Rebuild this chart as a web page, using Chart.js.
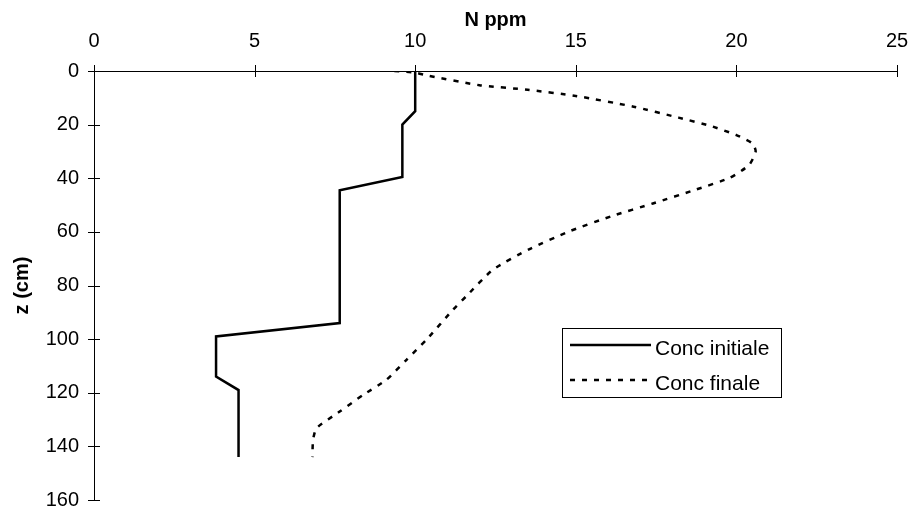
<!DOCTYPE html>
<html>
<head>
<meta charset="utf-8">
<script src="https://cdn.jsdelivr.net/npm/chart.js@4.4.0/dist/chart.umd.min.js"></script>
<style>
	body { margin: 0; background: #fff; }
</style>
</head>
<body>
<canvas id="profil" width="911" height="513"></canvas>
<script>
//data
const depthInit = [0, 15, 20, 39.5, 44.5, 94, 99, 114, 119, 144];
const concInit = [10, 10, 9.6, 9.6, 7.65, 7.65, 3.8, 3.8, 4.5, 4.5];

const depthFin = [0, 0.6, 1.6, 5.3, 7, 9.3, 13.3, 17.4, 20.5, 23.9, 27, 30, 35, 39.8, 44.2, 49.4, 54.2, 59.8, 66.4, 74.1, 84, 89, 100.2, 107.7, 115.2, 120.8, 127, 133.2, 137.6, 144];
const concFin = [9.35, 10, 10.35, 12, 13.5, 15, 16.8, 18.2, 19.2, 20, 20.5, 20.6, 20.4, 19.8, 18.75, 17.4, 16.1, 14.8, 13.56, 12.42, 11.59, 11.18, 10.35, 9.73, 9.1, 8.38, 7.65, 6.93, 6.82, 6.8];

const seriesNames = ["Conc initiale", "Conc finale"];

const FONT = "'Liberation Sans', Arial, sans-serif";

const toPoints = (xs, ys) => xs.map((x, i) => ({ x: x, y: ys[i] }));

//ticks crossing the axis lines
const crossTicks = {
	id: "crossTicks",
	afterDraw(chart) {
		const { ctx, scales: { x, y } } = chart;
		ctx.save();
		ctx.strokeStyle = "#000";
		ctx.lineWidth = 1;
		ctx.beginPath();
		x.ticks.forEach((t) => {
			const px = Math.round(x.getPixelForValue(t.value)) + 0.5;
			ctx.moveTo(px, y.top - 6);
			ctx.lineTo(px, y.top + 6);
		});
		y.ticks.forEach((t) => {
			const py = Math.round(y.getPixelForValue(t.value)) + 0.5;
			ctx.moveTo(x.left - 6, py);
			ctx.lineTo(x.left + 6, py);
		});
		ctx.stroke();
		ctx.restore();
	},
};

//legend box inside the plot
const boxLegend = {
	id: "boxLegend",
	afterDraw(chart) {
		const ctx = chart.ctx;
		const bx = 562, by = 328, bw = 219, bh = 69;
		ctx.save();
		ctx.fillStyle = "#fff";
		ctx.fillRect(bx, by, bw, bh);
		ctx.strokeStyle = "#000";
		ctx.lineWidth = 1;
		ctx.strokeRect(bx + 0.5, by + 0.5, bw, bh);
		chart.data.datasets.forEach((ds, i) => {
			const ly = by + 17 + i * 35;
			ctx.beginPath();
			ctx.lineWidth = ds.borderWidth;
			ctx.strokeStyle = ds.borderColor;
			ctx.setLineDash(ds.borderDash || []);
			ctx.moveTo(bx + 8, ly);
			ctx.lineTo(bx + 89, ly);
			ctx.stroke();
			ctx.setLineDash([]);
			ctx.fillStyle = "#000";
			ctx.font = "21px " + FONT;
			ctx.textBaseline = "middle";
			ctx.textAlign = "left";
			ctx.fillText(ds.label, bx + 93, ly + 4);
		});
		ctx.restore();
	},
};

//config
const config = {
	type: "scatter",
	data: {
		datasets: [
			{
				label: seriesNames[0],
				data: toPoints(concInit, depthInit),
				showLine: true,
				borderColor: "#000",
				borderWidth: 2.5,
				pointRadius: 0,
				tension: 0,
			},
			{
				label: seriesNames[1],
				data: toPoints(concFin, depthFin),
				showLine: true,
				borderColor: "#000",
				borderWidth: 2.5,
				borderDash: [5, 7],
				pointRadius: 0,
				tension: 0.2,
			},
		],
	},
	options: {
		responsive: false,
		animation: false,
		layout: {
			padding: { left: 0, top: 0, right: 14, bottom: 13 },
		},
		scales: {
			x: {
				type: "linear",
				position: "top",
				min: 0,
				max: 25,
				ticks: {
					stepSize: 5,
					color: "#000",
					font: { family: FONT, size: 20 },
					padding: 18,
					maxRotation: 0,
				},
				grid: { drawOnChartArea: false, drawTicks: false },
				border: { color: "#000", width: 1 },
				title: {
					display: true,
					text: "N ppm",
					color: "#000",
					font: { family: FONT, size: 20, weight: "bold" },
					padding: { top: 8, bottom: 0 },
				},
				afterFit(scale) {
					scale.height = 71;
					scale.paddingLeft = 0;
					scale.paddingRight = 0;
				},
			},
			y: {
				type: "linear",
				reverse: true,
				min: 0,
				max: 160,
				ticks: {
					stepSize: 20,
					color: "#000",
					font: { family: FONT, size: 20 },
					padding: 15,
				},
				grid: { drawOnChartArea: false, drawTicks: false },
				border: { color: "#000", width: 1 },
				title: {
					display: true,
					text: "z (cm)",
					color: "#000",
					font: { family: FONT, size: 20, weight: "bold" },
					padding: { top: 10, bottom: 0 },
				},
				afterFit(scale) {
					scale.width = 94;
					scale.paddingTop = 0;
					scale.paddingBottom = 0;
				},
			},
		},
		plugins: {
			legend: { display: false },
			tooltip: { enabled: false },
		},
	},
	plugins: [crossTicks, boxLegend],
};

//render
const chartProfil = new Chart(document.getElementById("profil"), config);
</script>
</body>
</html>
